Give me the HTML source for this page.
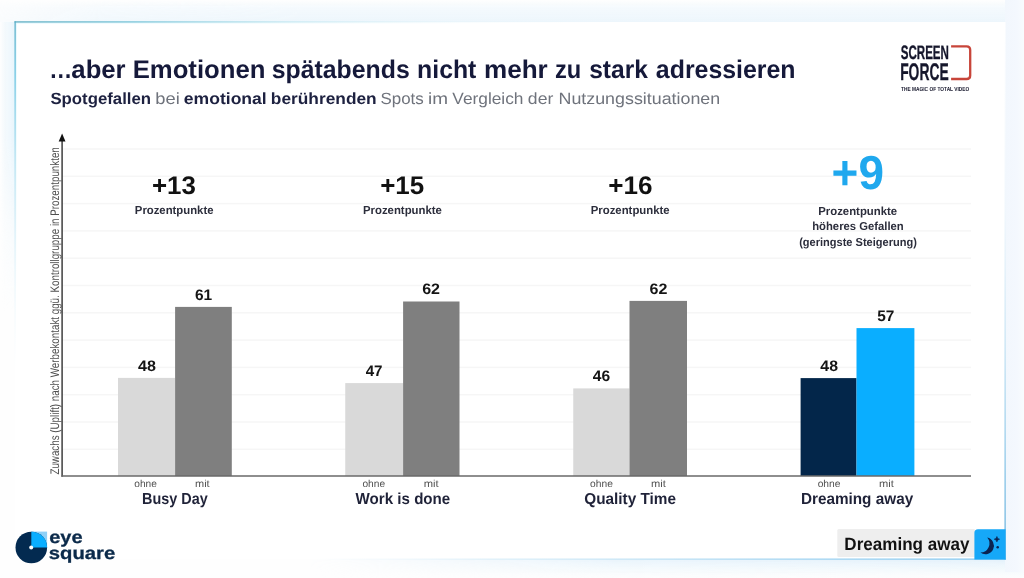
<!DOCTYPE html>
<html lang="de">
<head>
<meta charset="utf-8">
<title>…aber Emotionen spätabends nicht mehr zu stark adressieren</title>
<style>
html,body{margin:0;padding:0;}
body{width:1024px;height:578px;overflow:hidden;background:#fdfefe;font-family:"Liberation Sans",sans-serif;}
#stage{position:relative;width:1024px;height:578px;overflow:hidden;background:#fdfefe;}
svg{position:absolute;left:0;top:0;}
text{font-family:"Liberation Sans",sans-serif;text-rendering:geometricPrecision;}
.b{font-weight:700;}
</style>
</head>
<body>
<div id="stage">
<svg width="1024" height="578" viewBox="0 0 1024 578">
<defs>
<linearGradient id="gTop" x1="0" y1="0" x2="0" y2="1"><stop offset="0" stop-color="#f2f9fd" stop-opacity="0"/><stop offset=".35" stop-color="#f1f8fd" stop-opacity=".75"/><stop offset="1" stop-color="#edf6fc"/></linearGradient>
<linearGradient id="gTopM" x1="0" y1="0" x2="1" y2="0"><stop offset="0" stop-color="#fff" stop-opacity=".25"/><stop offset=".1" stop-color="#fff" stop-opacity=".8"/><stop offset=".3" stop-color="#fff"/><stop offset="1" stop-color="#fff"/></linearGradient>
<mask id="mTop"><rect x="0" y="0" width="1024" height="22" fill="url(#gTopM)"/></mask>
<linearGradient id="gLeft" x1="0" y1="0" x2="1" y2="0"><stop offset="0" stop-color="#eaf5fc" stop-opacity="0"/><stop offset=".3" stop-color="#eaf5fc" stop-opacity=".5"/><stop offset="1" stop-color="#e6f4fc"/></linearGradient>
<linearGradient id="gLeftM" x1="0" y1="0" x2="0" y2="1"><stop offset="0" stop-color="#fff" stop-opacity=".9"/><stop offset=".4" stop-color="#fff" stop-opacity=".9"/><stop offset=".7" stop-color="#fff" stop-opacity=".3"/><stop offset="1" stop-color="#fff" stop-opacity="0"/></linearGradient>
<mask id="mLeft"><rect x="0" y="22" width="15" height="290" fill="url(#gLeftM)"/></mask>
<linearGradient id="gBot" x1="0" y1="0" x2="0" y2="1"><stop offset="0" stop-color="#e3f1fb"/><stop offset=".5" stop-color="#eef7fc" stop-opacity=".8"/><stop offset="1" stop-color="#f6fafd" stop-opacity=".2"/></linearGradient>
<linearGradient id="gBotM" x1="0" y1="0" x2="1" y2="0"><stop offset="0" stop-color="#fff" stop-opacity="0"/><stop offset=".3" stop-color="#fff" stop-opacity="0"/><stop offset=".6" stop-color="#fff" stop-opacity=".8"/><stop offset="1" stop-color="#fff"/></linearGradient>
<mask id="mBot"><rect x="0" y="559" width="1024" height="19" fill="url(#gBotM)"/></mask>
<linearGradient id="gRight" x1="0" y1="0" x2="1" y2="0"><stop offset="0" stop-color="#f2f7fd"/><stop offset=".6" stop-color="#f4f8fe"/><stop offset="1" stop-color="#f8fbfe"/></linearGradient>
<linearGradient id="bTop" x1="0" y1="0" x2="1" y2="0"><stop offset="0" stop-color="#58aabf"/><stop offset=".12" stop-color="#74c2d6"/><stop offset=".28" stop-color="#bfe6f0" stop-opacity=".8"/><stop offset=".45" stop-color="#dff2f8" stop-opacity=".3"/><stop offset=".6" stop-color="#e8f4fa" stop-opacity="0"/></linearGradient>
<linearGradient id="bLeft" x1="0" y1="0" x2="0" y2="1"><stop offset="0" stop-color="#55acc6"/><stop offset=".1" stop-color="#66c2e0"/><stop offset=".25" stop-color="#a6dcee" stop-opacity=".9"/><stop offset=".45" stop-color="#cdeaf6" stop-opacity=".5"/><stop offset=".65" stop-color="#e8f4fa" stop-opacity="0"/></linearGradient>
<linearGradient id="bRight" x1="0" y1="0" x2="0" y2="1"><stop offset="0" stop-color="#dbeaf8" stop-opacity="0"/><stop offset=".35" stop-color="#cfe6f6" stop-opacity=".3"/><stop offset=".6" stop-color="#b3daf0" stop-opacity=".8"/><stop offset=".85" stop-color="#79bde4"/><stop offset="1" stop-color="#58a8d8"/></linearGradient>
<linearGradient id="bBot" x1="0" y1="0" x2="1" y2="0"><stop offset="0" stop-color="#dbeaf8" stop-opacity="0"/><stop offset=".3" stop-color="#d5ecf8" stop-opacity="0"/><stop offset=".5" stop-color="#bfe2f4" stop-opacity=".7"/><stop offset=".75" stop-color="#93cdee"/><stop offset="1" stop-color="#5fb6ea"/></linearGradient>
<linearGradient id="iTop" x1="0" y1="0" x2="1" y2="0"><stop offset="0" stop-color="#dff6fd" stop-opacity=".9"/><stop offset=".25" stop-color="#e6f8fd" stop-opacity=".6"/><stop offset=".5" stop-color="#f0fafd" stop-opacity="0"/></linearGradient>
<linearGradient id="iLeft" x1="0" y1="0" x2="0" y2="1"><stop offset="0" stop-color="#dff6fd" stop-opacity=".9"/><stop offset=".25" stop-color="#e6f8fd" stop-opacity=".6"/><stop offset=".5" stop-color="#f0fafd" stop-opacity="0"/></linearGradient>
</defs>
<rect x="0" y="0" width="1024" height="578" fill="#fefefe"/>
<rect x="0" y="0" width="1024" height="22" fill="url(#gTop)" mask="url(#mTop)"/>
<rect x="0" y="22" width="15" height="290" fill="url(#gLeft)" mask="url(#mLeft)"/>
<rect x="0" y="559" width="1024" height="19" fill="url(#gBot)" mask="url(#mBot)"/>
<rect x="1005" y="0" width="19" height="572" fill="url(#gRight)"/>
<rect x="15" y="22" width="990.5" height="537.4" fill="#ffffff"/>
<rect x="15.5" y="22.4" width="990" height="1.2" fill="url(#iTop)"/>
<rect x="15.6" y="22.4" width="1.2" height="537" fill="url(#iLeft)"/>
<rect x="14.5" y="21.3" width="991" height="1.25" fill="url(#bTop)"/>
<rect x="14.5" y="21.3" width="1.25" height="538" fill="url(#bLeft)"/>
<rect x="1004.5" y="22" width="1.2" height="537.6" fill="url(#bRight)"/>
<rect x="15" y="558.6" width="990.9" height="1" fill="url(#bBot)"/>
<text y="78" font-size="25.5"><tspan class="b" x="49.23" fill="#15193a" textLength="22.98" lengthAdjust="spacingAndGlyphs">…</tspan><tspan class="b" x="71.35" fill="#15193a" textLength="54.29" lengthAdjust="spacingAndGlyphs">aber</tspan> <tspan class="b" x="132.68" fill="#15193a" textLength="132.81" lengthAdjust="spacingAndGlyphs">Emotionen</tspan> <tspan class="b" x="271.73" fill="#15193a" textLength="138.04" lengthAdjust="spacingAndGlyphs">spätabends</tspan> <tspan class="b" x="417.11" fill="#15193a" textLength="59.29" lengthAdjust="spacingAndGlyphs">nicht</tspan> <tspan class="b" x="484.03" fill="#15193a" textLength="63.76" lengthAdjust="spacingAndGlyphs">mehr</tspan> <tspan class="b" x="555.05" fill="#15193a" textLength="26.25" lengthAdjust="spacingAndGlyphs">zu</tspan> <tspan class="b" x="589.14" fill="#15193a" textLength="58.74" lengthAdjust="spacingAndGlyphs">stark</tspan> <tspan class="b" x="655.87" fill="#15193a" textLength="139.67" lengthAdjust="spacingAndGlyphs">adressieren</tspan></text>
<text y="104" font-size="16.2"><tspan class="b" x="50.42" fill="#1d2140" textLength="100.62" lengthAdjust="spacingAndGlyphs">Spotgefallen</tspan> <tspan x="155.32" fill="#6f737c" textLength="24.41" lengthAdjust="spacingAndGlyphs">bei</tspan> <tspan class="b" x="183.81" fill="#1d2140" textLength="82.93" lengthAdjust="spacingAndGlyphs">emotional</tspan> <tspan class="b" x="270.86" fill="#1d2140" textLength="105.81" lengthAdjust="spacingAndGlyphs">berührenden</tspan> <tspan x="380.48" fill="#6f737c" textLength="43.23" lengthAdjust="spacingAndGlyphs">Spots</tspan> <tspan x="427.98" fill="#6f737c" textLength="20.02" lengthAdjust="spacingAndGlyphs">im</tspan> <tspan x="452.32" fill="#6f737c" textLength="71.18" lengthAdjust="spacingAndGlyphs">Vergleich</tspan> <tspan x="527.86" fill="#6f737c" textLength="25.43" lengthAdjust="spacingAndGlyphs">der</tspan> <tspan x="558.54" fill="#6f737c" textLength="161.62" lengthAdjust="spacingAndGlyphs">Nutzungssituationen</tspan></text>
<rect x="62" y="148.30" width="909" height="1.4" fill="#f6f6f6"/>
<rect x="62" y="175.60" width="909" height="1.4" fill="#f6f6f6"/>
<rect x="62" y="202.90" width="909" height="1.4" fill="#f6f6f6"/>
<rect x="62" y="230.20" width="909" height="1.4" fill="#f6f6f6"/>
<rect x="62" y="257.50" width="909" height="1.4" fill="#f6f6f6"/>
<rect x="62" y="284.80" width="909" height="1.4" fill="#f6f6f6"/>
<rect x="62" y="312.10" width="909" height="1.4" fill="#f6f6f6"/>
<rect x="62" y="339.40" width="909" height="1.4" fill="#f6f6f6"/>
<rect x="62" y="366.70" width="909" height="1.4" fill="#f6f6f6"/>
<rect x="62" y="394.00" width="909" height="1.4" fill="#f6f6f6"/>
<rect x="62" y="421.30" width="909" height="1.4" fill="#f6f6f6"/>
<rect x="62" y="448.60" width="909" height="1.4" fill="#f6f6f6"/>
<rect x="118.0" y="377.90" width="57.10" height="98.10" fill="#d9d9d9"/>
<rect x="175.1" y="306.90" width="56.70" height="169.10" fill="#7f7f7f"/>
<rect x="345.25" y="383.10" width="57.85" height="92.90" fill="#d9d9d9"/>
<rect x="403.1" y="301.50" width="56.40" height="174.50" fill="#7f7f7f"/>
<rect x="573.25" y="388.40" width="56.25" height="87.60" fill="#d9d9d9"/>
<rect x="629.5" y="300.90" width="57.50" height="175.10" fill="#7f7f7f"/>
<rect x="800.6" y="378.10" width="55.90" height="97.90" fill="#03264a"/>
<rect x="856.5" y="328.10" width="57.90" height="147.90" fill="#0aaeff"/>
<rect x="61.35" y="140" width="1.5" height="336.75" fill="#404040"/>
<path d="M62.1 133.5 L65.5 141.6 L58.7 141.6 Z" fill="#111"/>
<rect x="61.35" y="475.25" width="909.65" height="1.5" fill="#6a6a6a"/>
<text transform="translate(59.3 474.6) rotate(-90)" font-size="12.4" fill="#4f4f4f" textLength="327.4" lengthAdjust="spacingAndGlyphs">Zuwachs (Uplift) nach Werbekontakt ggü. Kontrollgruppe in Prozentpunkten</text>
<text class="b" x="138.01" y="371.00" font-size="15.2" fill="#151515" textLength="17.89" lengthAdjust="spacingAndGlyphs">48</text>
<text class="b" x="194.93" y="300.00" font-size="15.2" fill="#151515" textLength="17.25" lengthAdjust="spacingAndGlyphs">61</text>
<text x="134.32" y="487.00" font-size="10.2" fill="#505050" textLength="22.53" lengthAdjust="spacingAndGlyphs">ohne</text>
<text x="195.02" y="487.00" font-size="10.2" fill="#505050" textLength="14.66" lengthAdjust="spacingAndGlyphs">mit</text>
<text class="b" x="142.04" y="504.00" font-size="15.9" fill="#1f2238" textLength="65.64" lengthAdjust="spacingAndGlyphs">Busy Day</text>
<text class="b" x="365.67" y="376.00" font-size="15.2" fill="#151515" textLength="16.90" lengthAdjust="spacingAndGlyphs">47</text>
<text class="b" x="422.16" y="294.00" font-size="15.2" fill="#151515" textLength="17.88" lengthAdjust="spacingAndGlyphs">62</text>
<text x="362.47" y="487.00" font-size="10.2" fill="#505050" textLength="22.58" lengthAdjust="spacingAndGlyphs">ohne</text>
<text x="423.66" y="487.00" font-size="10.2" fill="#505050" textLength="14.93" lengthAdjust="spacingAndGlyphs">mit</text>
<text class="b" x="355.59" y="504.00" font-size="15.9" fill="#1f2238" textLength="94.68" lengthAdjust="spacingAndGlyphs">Work is done</text>
<text class="b" x="592.76" y="381.00" font-size="15.2" fill="#151515" textLength="17.40" lengthAdjust="spacingAndGlyphs">46</text>
<text class="b" x="649.51" y="294.00" font-size="15.2" fill="#151515" textLength="17.88" lengthAdjust="spacingAndGlyphs">62</text>
<text x="590.07" y="487.00" font-size="10.2" fill="#505050" textLength="22.79" lengthAdjust="spacingAndGlyphs">ohne</text>
<text x="651.01" y="487.00" font-size="10.2" fill="#505050" textLength="14.82" lengthAdjust="spacingAndGlyphs">mit</text>
<text class="b" x="584.27" y="504.00" font-size="15.9" fill="#1f2238" textLength="91.75" lengthAdjust="spacingAndGlyphs">Quality Time</text>
<text class="b" x="820.36" y="371.00" font-size="15.2" fill="#151515" textLength="17.63" lengthAdjust="spacingAndGlyphs">48</text>
<text class="b" x="877.28" y="321.00" font-size="15.2" fill="#151515" textLength="17.15" lengthAdjust="spacingAndGlyphs">57</text>
<text x="817.67" y="487.00" font-size="10.2" fill="#505050" textLength="22.79" lengthAdjust="spacingAndGlyphs">ohne</text>
<text x="879.01" y="487.00" font-size="10.2" fill="#505050" textLength="14.82" lengthAdjust="spacingAndGlyphs">mit</text>
<text class="b" x="800.88" y="504.00" font-size="15.9" fill="#1f2238" textLength="112.31" lengthAdjust="spacingAndGlyphs">Dreaming away</text>
<text class="b" x="152.01" y="194.00" font-size="25.6" fill="#111" textLength="43.92" lengthAdjust="spacingAndGlyphs">+13</text>
<text class="b" x="134.84" y="214.00" font-size="11.6" fill="#2c2e3c" textLength="78.64" lengthAdjust="spacingAndGlyphs">Prozentpunkte</text>
<text class="b" x="380.16" y="194.00" font-size="25.6" fill="#111" textLength="44.06" lengthAdjust="spacingAndGlyphs">+15</text>
<text class="b" x="362.99" y="214.00" font-size="11.6" fill="#2c2e3c" textLength="78.90" lengthAdjust="spacingAndGlyphs">Prozentpunkte</text>
<text class="b" x="608.15" y="194.00" font-size="25.6" fill="#111" textLength="44.29" lengthAdjust="spacingAndGlyphs">+16</text>
<text class="b" x="590.74" y="214.00" font-size="11.6" fill="#2c2e3c" textLength="78.90" lengthAdjust="spacingAndGlyphs">Prozentpunkte</text>
<text class="b" x="831.57" y="189.00" font-size="47.8" fill="#1fa8ee" textLength="52.38" lengthAdjust="spacingAndGlyphs">+9</text>
<text class="b" x="818.24" y="215.00" font-size="11.6" fill="#2c2e3c" textLength="78.90" lengthAdjust="spacingAndGlyphs">Prozentpunkte</text>
<text class="b" x="812.21" y="230.00" font-size="11.6" fill="#2c2e3c" textLength="91.49" lengthAdjust="spacingAndGlyphs">höheres Gefallen</text>
<text class="b" x="799.15" y="246.00" font-size="11.6" fill="#2c2e3c" textLength="117.70" lengthAdjust="spacingAndGlyphs">(geringste Steigerung)</text>
<text class="b" x="900.77" y="59.00" font-size="19.4" fill="#15162b" textLength="48.11" lengthAdjust="spacingAndGlyphs" stroke="#15162b" stroke-width="0.35">SCREEN</text>
<text class="b" x="900.17" y="80.00" font-size="24.0" fill="#15162b" textLength="48.47" lengthAdjust="spacingAndGlyphs" stroke="#15162b" stroke-width="0.3">FORCE</text>
<path d="M951.1 46.3 H966.6 Q970.2 46.3 970.2 49.9 V75.4 Q970.2 79 966.6 79 H951.1" fill="none" stroke="#c8453a" stroke-width="2.3"/>
<text class="b" x="901.05" y="91.00" font-size="5.9" fill="#15162b" textLength="68.25" lengthAdjust="spacingAndGlyphs">THE MAGIC OF TOTAL VIDEO</text>
<rect x="31.3" y="531.6" width="15.8" height="15.9" fill="#8fd0f7"/>
<circle cx="31.3" cy="547.5" r="15.8" fill="#032a50"/>
<path d="M31.3 547.5 V531.7 A15.8 15.8 0 0 1 47.1 547.5 Z" fill="#0aaeff"/>
<circle cx="31.2" cy="547.6" r="2" fill="#fff"/>
<text class="b" x="49.22" y="543.00" font-size="17.6" fill="#0b2a4a" textLength="33.36" lengthAdjust="spacingAndGlyphs" stroke="#0b2a4a" stroke-width="0.3">eye</text>
<text class="b" x="48.79" y="559.00" font-size="17.6" fill="#0b2a4a" textLength="66.40" lengthAdjust="spacingAndGlyphs" stroke="#0b2a4a" stroke-width="0.3">square</text>
<rect x="837.3" y="528.9" width="138" height="28.2" rx="1.5" fill="#eeeeee"/>
<path d="M974.4 559.6 V532.8 Q974.4 529.2 978 529.2 H1005.6 V559.6 Z" fill="#16a8f8"/>
<text class="b" x="844.36" y="550.00" font-size="17.8" fill="#111" textLength="125.03" lengthAdjust="spacingAndGlyphs">Dreaming away</text>
<path d="M987.2 537.6 A8.4 8.4 0 1 1 980.4 552.5 A9 9 0 0 0 987.2 537.6 Z" fill="#0b2350"/>
<path d="M996.9 536.5 L997.7 538.4 L999.6 539.2 L997.7 540 L996.9 541.9 L996.1 540 L994.2 539.2 L996.1 538.4 Z" fill="#0b2350" stroke="#0b2350" stroke-width=".6" stroke-linejoin="round"/><circle cx="997.7" cy="547.3" r="1.25" fill="#0b2350"/>
</svg>
</div>
</body>
</html>
